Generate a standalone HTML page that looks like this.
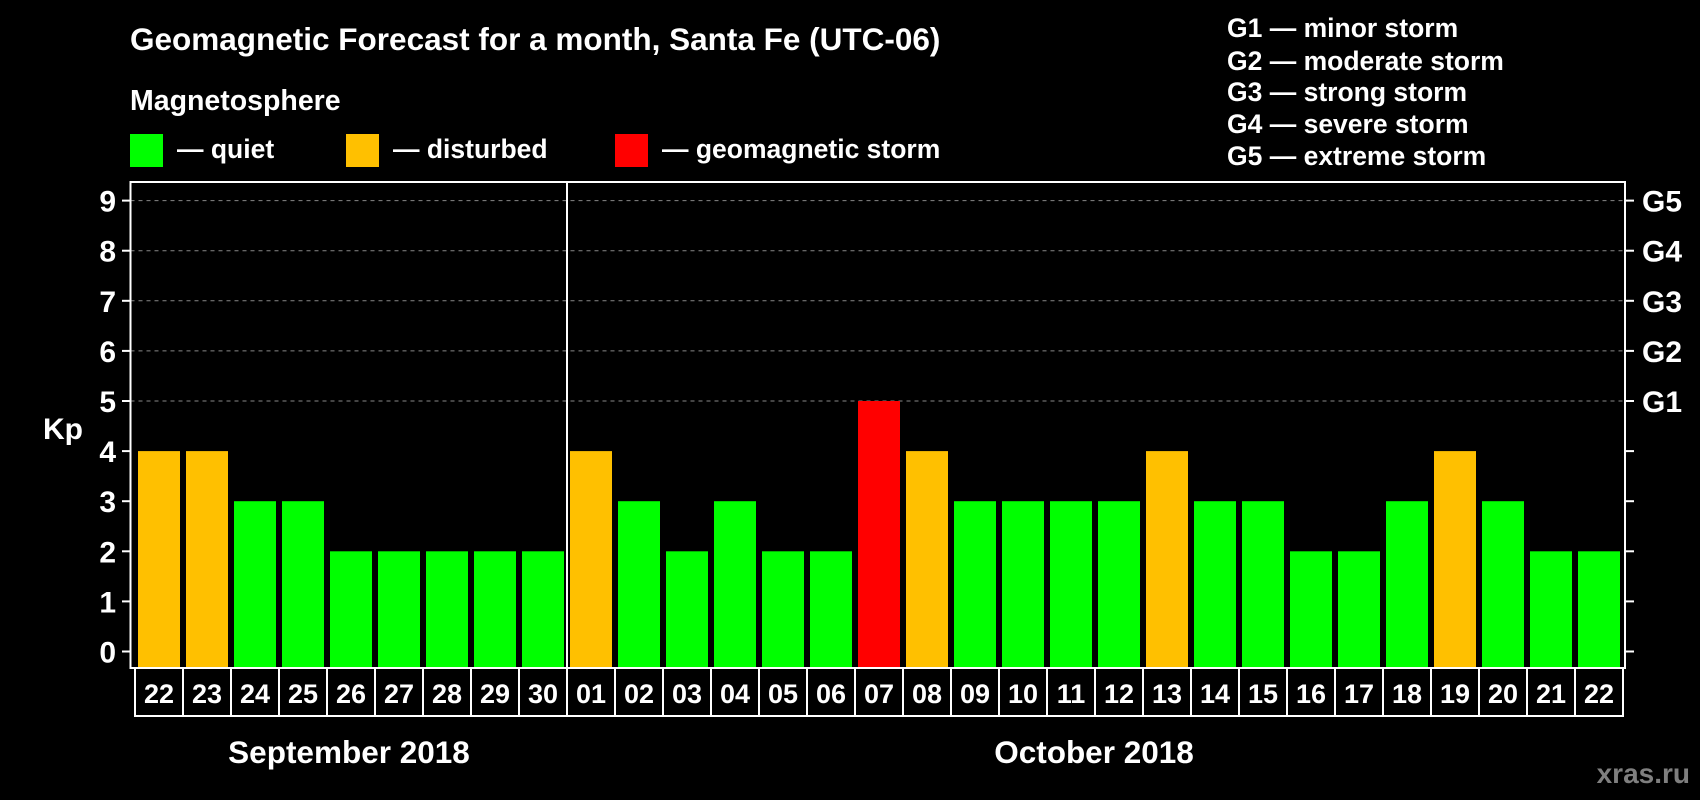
<!DOCTYPE html>
<html><head><meta charset="utf-8"><style>
html,body{margin:0;padding:0;background:#000;}
svg{display:block;font-family:"Liberation Sans",Arial,sans-serif;font-weight:bold;}
</style></head><body>
<svg id="chart" width="1700" height="800" viewBox="0 0 1700 800" xmlns="http://www.w3.org/2000/svg">
<rect width="1700" height="800" fill="#000"/>
<text x="130" y="50" fill="#fff" font-size="31.5">Geomagnetic Forecast for a month, Santa Fe (UTC-06)</text>
<text x="130" y="110" fill="#fff" font-size="28.5">Magnetosphere</text>
<g><rect x="130" y="134" width="33" height="33" fill="#00ff00"/><text x="177" y="158" fill="#fff" font-size="26.5">— quiet</text></g>
<g><rect x="346" y="134" width="33" height="33" fill="#ffc000"/><text x="393" y="158" fill="#fff" font-size="26.5">— disturbed</text></g>
<g><rect x="615" y="134" width="33" height="33" fill="#ff0000"/><text x="662" y="158" fill="#fff" font-size="26.5">— geomagnetic storm</text></g>
<g fill="#fff" font-size="26.5">
<text x="1227" y="37">G1 — minor storm</text>
<text x="1227" y="70">G2 — moderate storm</text>
<text x="1227" y="101">G3 — strong storm</text>
<text x="1227" y="133">G4 — severe storm</text>
<text x="1227" y="165">G5 — extreme storm</text>
</g>
<g id="grid"></g><g id="bars"></g><g id="axes"></g>
<text x="43" y="439" fill="#fff" font-size="30">Kp</text>
<text x="349" y="763" text-anchor="middle" fill="#fff" font-size="31.5">September 2018</text>
<text x="1094" y="763" text-anchor="middle" fill="#fff" font-size="31.5">October 2018</text>
<text x="1690" y="783" text-anchor="end" fill="#7f7f7f" font-size="28">xras.ru</text>
</svg>
<script>
const days=["22","23","24","25","26","27","28","29","30","01","02","03","04","05","06","07","08","09","10","11","12","13","14","15","16","17","18","19","20","21","22"];
const kpValues=[4,4,3,3,2,2,2,2,2,4,3,2,3,2,2,5,4,3,3,3,3,4,3,3,2,2,3,4,3,2,2];
const yTicks=[0,1,2,3,4,5,6,7,8,9];
const gLabels=["G1","G2","G3","G4","G5"];
const NS="http://www.w3.org/2000/svg";
const X0=135,PITCH=48,FL=130.5,FR=1625,FT=182,FB=668,BOXH=48;
function y(v){return 651.5-v*50.1;}
function x(i){return X0+i*PITCH;}
function mk(tag,attrs,parent){const e=document.createElementNS(NS,tag);for(const k in attrs)e.setAttribute(k,attrs[k]);parent.appendChild(e);return e;}
const grid=document.getElementById('grid'),bars=document.getElementById('bars'),axes=document.getElementById('axes');
yTicks.forEach(v=>{
  if(v>=5){const l=mk('line',{x1:FL,x2:FR,y1:y(v),y2:y(v),stroke:'#888','stroke-dasharray':'4 4','stroke-width':1},grid);
  
  }
  const t=mk('line',{x1:122,x2:FL,y1:y(v),y2:y(v),stroke:'#fff','stroke-width':2},axes);
  
  
  const t2=mk('line',{x1:FR,x2:1634,y1:y(v),y2:y(v),stroke:'#fff','stroke-width':2},axes);
  
  
  const lab=mk('text',{x:116,y:y(v)+11,'text-anchor':'end',fill:'#fff','font-size':30},axes);
  lab.textContent=v;
  
  
});
gLabels.forEach((g,i)=>{
  const lab=mk('text',{x:1642,y:y(5+i)+11,fill:'#fff','font-size':30},axes);
  lab.textContent=g;
  
  
});
kpValues.forEach((v,i)=>{
  const c=v>=5?'#ff0000':(v>=4?'#ffc000':'#00ff00');
  const r=mk('rect',{x:x(i)+3,y:y(v),width:42,height:FB-y(v),fill:c},bars);
  
  
  const b=mk('rect',{x:x(i),y:FB,width:PITCH,height:BOXH,fill:'none',stroke:'#fff','stroke-width':2},axes);
  
  
  const t=mk('text',{x:x(i)+PITCH/2,y:FB+35,'text-anchor':'middle',fill:'#fff','font-size':27},axes);
  t.textContent=days[i];
  
  
});
const fr=mk('rect',{x:FL,y:FT,width:FR-FL,height:FB-FT,fill:'none',stroke:'#fff','stroke-width':2},axes);


const sep=mk('line',{x1:x(9),x2:x(9),y1:FT,y2:FB+BOXH,stroke:'#fff','stroke-width':2},axes);


</script>
</body></html>
